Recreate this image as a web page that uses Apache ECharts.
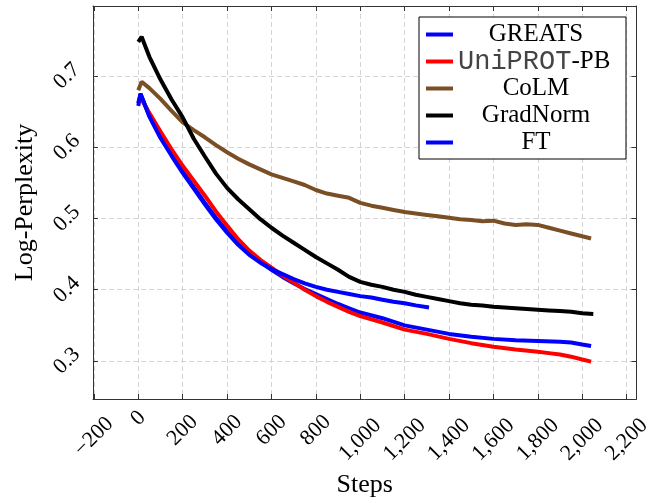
<!DOCTYPE html>
<html>
<head>
<meta charset="utf-8">
<script src="https://cdn.jsdelivr.net/npm/echarts@6/dist/echarts.min.js"></script>
<style>
  html, body { margin: 0; padding: 0; background: #fff; }
  #chart { width: 654px; height: 503px; }
</style>
</head>
<body>
<div id="chart"></div>
<script>
// tick values
var xTicks = [-200, 0, 200, 400, 600, 800, 1000, 1200, 1400, 1600, 1800, 2000, 2200];
var yTicks = [0.3, 0.4, 0.5, 0.6, 0.7];

// GREATS (blue, runs to the end)
var greatsSteps = [0, 10, 50, 100, 150, 200, 250, 300, 350, 400, 450, 500, 550, 600, 650, 700, 750, 800, 850, 900, 950, 1000, 1100, 1200, 1300, 1400, 1500, 1600, 1700, 1800, 1900, 1950, 2000, 2040];
var greatsVals = [0.658, 0.675, 0.644, 0.615, 0.590, 0.566, 0.544, 0.522, 0.501, 0.482, 0.465, 0.451, 0.439, 0.428, 0.418, 0.409, 0.401, 0.394, 0.387, 0.380, 0.374, 0.368, 0.360, 0.350, 0.344, 0.338, 0.334, 0.331, 0.329, 0.328, 0.327, 0.326, 0.323, 0.321];

// UniPROT-PB (red)
var uniSteps = [0, 10, 50, 100, 150, 200, 250, 300, 350, 400, 450, 500, 550, 600, 650, 700, 750, 800, 850, 900, 950, 1000, 1100, 1200, 1300, 1400, 1500, 1600, 1700, 1800, 1850, 1900, 1950, 2000, 2040];
var uniVals = [0.662, 0.670, 0.648, 0.622, 0.597, 0.574, 0.553, 0.532, 0.510, 0.490, 0.471, 0.455, 0.442, 0.431, 0.420, 0.410, 0.400, 0.391, 0.383, 0.376, 0.369, 0.363, 0.354, 0.344, 0.338, 0.331, 0.325, 0.320, 0.316, 0.313, 0.311, 0.309, 0.306, 0.302, 0.299];

// CoLM (brown)
var colmSteps = [0, 15, 50, 100, 150, 200, 250, 300, 350, 400, 450, 500, 550, 600, 650, 700, 750, 800, 850, 900, 950, 1000, 1050, 1100, 1150, 1200, 1250, 1300, 1350, 1400, 1450, 1500, 1550, 1600, 1650, 1700, 1750, 1800, 1850, 1900, 1950, 2000, 2040];
var colmVals = [0.680, 0.692, 0.683, 0.668, 0.651, 0.635, 0.624, 0.614, 0.603, 0.593, 0.584, 0.576, 0.569, 0.562, 0.557, 0.552, 0.547, 0.540, 0.535, 0.532, 0.529, 0.522, 0.518, 0.515, 0.512, 0.509, 0.507, 0.505, 0.503, 0.501, 0.499, 0.498, 0.496, 0.497, 0.493, 0.491, 0.492, 0.491, 0.487, 0.483, 0.479, 0.475, 0.472];

// GradNorm (black)
var gradSteps = [0, 15, 50, 100, 150, 200, 250, 300, 350, 400, 450, 500, 550, 600, 650, 700, 750, 800, 850, 900, 950, 1000, 1050, 1100, 1150, 1200, 1250, 1300, 1350, 1400, 1450, 1500, 1550, 1600, 1650, 1700, 1750, 1800, 1850, 1900, 1950, 2000, 2050];
var gradVals = [0.748, 0.755, 0.727, 0.695, 0.667, 0.642, 0.612, 0.587, 0.563, 0.543, 0.527, 0.513, 0.499, 0.487, 0.476, 0.466, 0.456, 0.446, 0.437, 0.428, 0.418, 0.411, 0.407, 0.404, 0.400, 0.397, 0.393, 0.390, 0.387, 0.384, 0.381, 0.379, 0.378, 0.376, 0.375, 0.374, 0.373, 0.372, 0.371, 0.370, 0.369, 0.367, 0.366];

// FT (blue, stops early)
var ftSteps = [0, 10, 50, 100, 150, 200, 250, 300, 350, 400, 450, 500, 550, 600, 650, 700, 750, 800, 850, 900, 950, 1000, 1050, 1100, 1150, 1200, 1250, 1310];
var ftVals = [0.662, 0.675, 0.643, 0.613, 0.588, 0.564, 0.542, 0.520, 0.499, 0.480, 0.463, 0.449, 0.438, 0.429, 0.422, 0.415, 0.409, 0.404, 0.400, 0.397, 0.394, 0.391, 0.389, 0.386, 0.383, 0.381, 0.378, 0.375];

function pairs(xs, ys) {
  return xs.map(function (x, i) { return [x, ys[i]]; });
}

function fmtStep(v) {
  var s = Math.abs(v).toString().replace(/\B(?=(\d{3})+(?!\d))/g, ',');
  return (v < 0 ? '\u2212' : '') + s;
}

// rotated x labels: push each one down by half its length so it hangs centred under its tick
var xRich = {};
xTicks.forEach(function (t, i) {
  var s = fmtStep(t);
  var w = 0;
  for (var k = 0; k < s.length; k++) {
    w += s[k] === ',' ? 5.5 : (s[k] === '\u2212' ? 12.4 : 11);
  }
  var d = Math.round(0.78 * w);
  xRich['t' + i] = { padding: [d, d, 0, 0], fontFamily: 'Liberation Serif', fontSize: 22, color: '#000' };
});

var serif = 'Liberation Serif';
var frame = { show: true, onZero: false, lineStyle: { color: '#333', width: 1 } };
var tickIn = { inside: true, length: 5, lineStyle: { color: '#333' } };
var grid = { show: true, lineStyle: { color: '#d4d4d4', type: [5, 3], width: 1 } };

var chart = echarts.init(document.getElementById('chart'));

chart.setOption({
  animation: false,
  grid: { left: 93, right: 13, top: 6, bottom: 97 },
  legend: {
    left: 419,
    top: 17,
    orient: 'vertical',
    padding: [4, 12, 3, 7],
    itemGap: 0,
    itemWidth: 27,
    itemHeight: 4,
    icon: 'rect',
    backgroundColor: '#fff',
    borderColor: '#000',
    borderWidth: 1,
    borderRadius: 0,
    data: ['GREATS', 'UniPROT-PB', 'CoLM', 'GradNorm', 'FT'],
    formatter: function (name) {
      if (name === 'UniPROT-PB') return '{m|UniPROT}{s|-PB}';
      return '{c|' + name + '}';
    },
    textStyle: {
      fontFamily: serif,
      fontSize: 25,
      lineHeight: 27,
      color: '#000',
      rich: {
        c: { width: 156, align: 'center', fontFamily: serif, fontSize: 25, color: '#000' },
        m: { fontFamily: 'Liberation Mono', fontSize: 27, color: '#444' },
        s: { fontFamily: serif, fontSize: 25, color: '#000' }
      }
    }
  },
  xAxis: [
    {
      type: 'value',
      min: -204,
      max: 2244,
      name: 'Steps',
      nameLocation: 'middle',
      nameGap: 73,
      nameTextStyle: { fontFamily: serif, fontSize: 26, color: '#000' },
      axisLine: frame,
      axisTick: Object.assign({ customValues: xTicks }, tickIn),
      splitLine: grid,
      axisLabel: {
        customValues: xTicks,
        rotate: 45,
        align: 'center',
        verticalAlign: 'middle',
        margin: 13,
        formatter: function (v) {
          var i = xTicks.indexOf(v);
          return '{t' + i + '|' + fmtStep(v) + '}';
        },
        rich: xRich
      }
    },
    {
      type: 'value',
      position: 'top',
      min: -204,
      max: 2244,
      axisLine: frame,
      axisTick: Object.assign({ customValues: xTicks }, tickIn),
      axisLabel: { show: false, customValues: xTicks },
      splitLine: { show: false }
    }
  ],
  yAxis: [
    {
      type: 'value',
      min: 0.2466,
      max: 0.7983,
      name: 'Log-Perplexity',
      nameLocation: 'middle',
      nameRotate: 90,
      nameGap: 55,
      nameTextStyle: { fontFamily: serif, fontSize: 26, color: '#000' },
      axisLine: frame,
      axisTick: Object.assign({ customValues: yTicks }, tickIn),
      splitLine: grid,
      axisLabel: {
        customValues: yTicks,
        rotate: 45,
        align: 'center',
        verticalAlign: 'middle',
        margin: 26,
        fontFamily: serif,
        fontSize: 22,
        color: '#000',
        formatter: function (v) { return v.toFixed(1); }
      }
    },
    {
      type: 'value',
      position: 'right',
      min: 0.2466,
      max: 0.7983,
      axisLine: frame,
      axisTick: Object.assign({ customValues: yTicks }, tickIn),
      axisLabel: { show: false, customValues: yTicks },
      splitLine: { show: false }
    }
  ],
  series: [
    { name: 'GREATS', type: 'line', color: '#0000ff', showSymbol: false, lineStyle: { width: 4 }, data: pairs(greatsSteps, greatsVals) },
    { name: 'UniPROT-PB', type: 'line', color: '#ff0000', showSymbol: false, lineStyle: { width: 4 }, data: pairs(uniSteps, uniVals) },
    { name: 'CoLM', type: 'line', color: '#7a4f26', showSymbol: false, lineStyle: { width: 4 }, data: pairs(colmSteps, colmVals) },
    { name: 'GradNorm', type: 'line', color: '#000000', showSymbol: false, lineStyle: { width: 4 }, data: pairs(gradSteps, gradVals) },
    { name: 'FT', type: 'line', color: '#0000ff', showSymbol: false, lineStyle: { width: 4 }, data: pairs(ftSteps, ftVals) }
  ]
});
</script>
</body>
</html>
